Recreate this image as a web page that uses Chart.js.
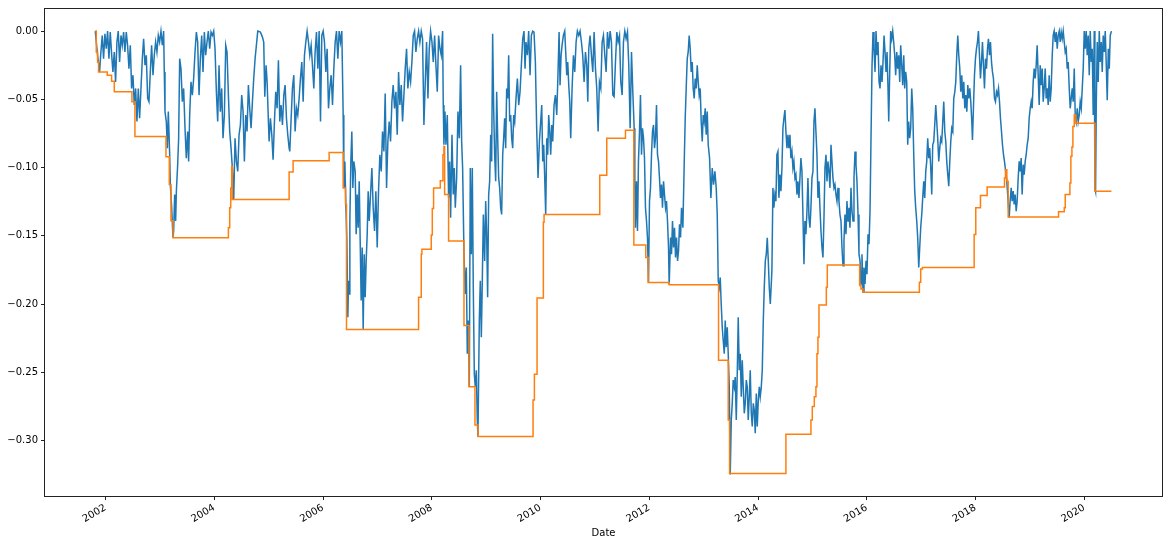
<!DOCTYPE html>
<html>
<head>
<meta charset="utf-8">
<title>Drawdown</title>
<script src="https://cdn.jsdelivr.net/npm/chart.js@4.4.1/dist/chart.umd.min.js"></script>
<style>
  html, body { margin: 0; padding: 0; background: #fff; }
  #wrap { width: 1168px; height: 546px; }
</style>
</head>
<body>
<div id="wrap"><canvas id="dd" width="1168" height="546"></canvas></div>
<script>
// ─── Data (dates as fractional years) ─────────────────────
const yearTicks = [2002, 2004, 2006, 2008, 2010, 2012, 2014, 2016, 2018, 2020];
const valueTicks = [-0.30, -0.25, -0.20, -0.15, -0.10, -0.05, 0.00];

// daily drawdown
const drawdown = [
  [2001.810, 0], [2001.853, -0.0177], [2001.890, -0.0299], [2001.914, -0.0153], [2001.939, -0.0032],
  [2001.963, -0.0202], [2001.988, -0.0019], [2002.013, -0.0129], [2002.037, 0], [2002.062, -0.0202],
  [2002.086, -0.0007], [2002.111, -0.0165], [2002.135, -0.0299], [2002.160, -0.0153], [2002.184, -0.0372],
  [2002.209, -0.0080], [2002.233, 0], [2002.258, -0.0226], [2002.283, -0.0032], [2002.307, -0.0104],
  [2002.332, -0.0007], [2002.356, -0.0153], [2002.381, -0.0007], [2002.405, -0.0104], [2002.430, -0.0275],
  [2002.455, -0.0104], [2002.479, -0.0420], [2002.504, -0.0323], [2002.528, -0.0542], [2002.553, -0.0420],
  [2002.577, -0.0663], [2002.602, -0.0420], [2002.626, -0.0639], [2002.651, -0.0420], [2002.676, -0.0202],
  [2002.700, -0.0056], [2002.725, -0.0250], [2002.749, -0.0177], [2002.774, -0.0493], [2002.798, -0.0517],
  [2002.823, -0.0299], [2002.847, -0.0104], [2002.872, -0.0323], [2002.896, -0.0177], [2002.921, -0.0080],
  [2002.945, -0.0153], [2002.970, -0.0032], [2002.994, -0.0080], [2003.019, 0], [2003.044, -0.0104],
  [2003.068, 0], [2003.080, -0.0299], [2003.093, -0.0590], [2003.117, -0.0663], [2003.136, -0.0858],
  [2003.154, -0.0590], [2003.179, -0.0906], [2003.191, -0.1125], [2003.216, -0.1295], [2003.240, -0.1514],
  [2003.252, -0.1465], [2003.271, -0.1198], [2003.289, -0.1392], [2003.302, -0.1173], [2003.326, -0.0979],
  [2003.344, -0.0785], [2003.363, -0.0202], [2003.387, -0.0275], [2003.412, -0.0517], [2003.436, -0.0420],
  [2003.461, -0.0712], [2003.485, -0.0931], [2003.510, -0.0736], [2003.528, -0.0955], [2003.547, -0.0615],
  [2003.571, -0.0372], [2003.596, -0.0469], [2003.620, -0.0347], [2003.645, -0.0153], [2003.670, -0.0007],
  [2003.694, -0.0080], [2003.719, -0.0469], [2003.743, -0.0202], [2003.768, -0.0032], [2003.792, -0.0299],
  [2003.817, -0.0007], [2003.841, -0.0177], [2003.866, -0.0080], [2003.890, 0], [2003.915, -0.0129],
  [2003.940, -0.0007], [2003.964, -0.0032], [2003.989, 0], [2004.013, -0.0129], [2004.038, -0.0445],
  [2004.062, -0.0663], [2004.087, -0.0250], [2004.111, -0.0590], [2004.136, -0.0420], [2004.160, -0.0785],
  [2004.185, -0.0615], [2004.210, -0.0104], [2004.234, -0.0153], [2004.259, -0.0469], [2004.283, -0.0736],
  [2004.308, -0.0858], [2004.332, -0.1003], [2004.357, -0.1234], [2004.381, -0.0785], [2004.406, -0.0955],
  [2004.431, -0.1028], [2004.455, -0.0760], [2004.480, -0.0687], [2004.504, -0.0469], [2004.529, -0.0590],
  [2004.553, -0.0955], [2004.578, -0.0615], [2004.602, -0.0736], [2004.627, -0.0396], [2004.651, -0.0566],
  [2004.676, -0.0712], [2004.701, -0.0517], [2004.725, -0.0347], [2004.750, -0.0202], [2004.774, -0.0104],
  [2004.799, 0], [2004.848, -0.0007], [2004.885, -0.0044], [2004.909, -0.0080], [2004.928, -0.0481],
  [2004.952, -0.0250], [2004.971, -0.0372], [2004.995, -0.0663], [2005.008, -0.0809], [2005.032, -0.0639],
  [2005.057, -0.0760], [2005.081, -0.0943], [2005.106, -0.0663], [2005.130, -0.0445], [2005.155, -0.0566],
  [2005.179, -0.0214], [2005.204, -0.0663], [2005.228, -0.0542], [2005.253, -0.0688], [2005.278, -0.0469],
  [2005.302, -0.0396], [2005.327, -0.0639], [2005.351, -0.0760], [2005.376, -0.0858], [2005.388, -0.0882],
  [2005.413, -0.0639], [2005.437, -0.0420], [2005.462, -0.0323], [2005.486, -0.0736], [2005.511, -0.0566],
  [2005.535, -0.0615], [2005.560, -0.0493], [2005.584, -0.0347], [2005.609, -0.0226], [2005.634, -0.0517],
  [2005.658, -0.0177], [2005.683, -0.0080], [2005.707, 0], [2005.732, -0.0080], [2005.756, -0.0177],
  [2005.781, -0.0104], [2005.805, -0.0250], [2005.830, -0.0420], [2005.854, -0.0153], [2005.879, -0.0007],
  [2005.904, -0.0275], [2005.928, 0], [2005.953, -0.0663], [2005.977, -0.0032], [2006.002, 0],
  [2006.026, -0.0080], [2006.051, -0.0299], [2006.075, -0.0129], [2006.100, -0.0566], [2006.124, -0.0420],
  [2006.149, -0.0323], [2006.174, -0.0542], [2006.198, -0.0275], [2006.223, -0.0080], [2006.247, 0],
  [2006.272, -0.0202], [2006.296, 0], [2006.321, -0.0080], [2006.345, 0], [2006.370, -0.0615],
  [2006.382, -0.1149], [2006.401, -0.0955], [2006.419, -0.1271], [2006.437, -0.1514], [2006.456, -0.2097],
  [2006.468, -0.1829], [2006.480, -0.1927], [2006.493, -0.1392], [2006.511, -0.0955], [2006.529, -0.0736],
  [2006.548, -0.1149], [2006.566, -0.0955], [2006.591, -0.1028], [2006.609, -0.1489], [2006.628, -0.1198],
  [2006.646, -0.1441], [2006.665, -0.1101], [2006.683, -0.1538], [2006.701, -0.1975], [2006.720, -0.1586],
  [2006.738, -0.2187], [2006.757, -0.1635], [2006.775, -0.1951], [2006.793, -0.1684], [2006.812, -0.1489],
  [2006.830, -0.1173], [2006.849, -0.1392], [2006.873, -0.1198], [2006.898, -0.1003], [2006.922, -0.1295],
  [2006.947, -0.1465], [2006.971, -0.1173], [2006.996, -0.1586], [2007.020, -0.1173], [2007.045, -0.0906],
  [2007.070, -0.1028], [2007.094, -0.0736], [2007.119, -0.0882], [2007.143, -0.0457], [2007.168, -0.1149],
  [2007.192, -0.0809], [2007.217, -0.0663], [2007.241, -0.0809], [2007.266, -0.0517], [2007.290, -0.0396],
  [2007.315, -0.0566], [2007.340, -0.0445], [2007.364, -0.0760], [2007.389, -0.0299], [2007.413, -0.0542],
  [2007.438, -0.0396], [2007.462, -0.0663], [2007.487, -0.0469], [2007.511, -0.0275], [2007.536, -0.0129],
  [2007.560, -0.0420], [2007.585, -0.0299], [2007.610, -0.0372], [2007.634, -0.0226], [2007.659, -0.0032],
  [2007.683, 0], [2007.708, -0.0153], [2007.732, -0.0056], [2007.757, 0], [2007.781, -0.0080],
  [2007.806, 0], [2007.830, -0.0056], [2007.855, -0.0688], [2007.880, -0.0372], [2007.904, -0.0080],
  [2007.929, -0.0493], [2007.953, -0.0129], [2007.978, 0], [2008.003, -0.0080], [2008.027, -0.0226],
  [2008.052, -0.0032], [2008.076, -0.0250], [2008.101, -0.0445], [2008.125, -0.0032], [2008.150, -0.0129],
  [2008.174, -0.0177], [2008.199, 0], [2008.211, -0.0542], [2008.223, -0.0833], [2008.242, -0.0590],
  [2008.260, -0.0833], [2008.285, -0.0615], [2008.309, -0.1222], [2008.328, -0.0955], [2008.346, -0.1368],
  [2008.371, -0.0760], [2008.395, -0.1198], [2008.414, -0.1003], [2008.432, -0.1295], [2008.457, -0.1076],
  [2008.481, -0.0590], [2008.506, -0.0785], [2008.530, -0.0250], [2008.549, -0.0809], [2008.567, -0.1003],
  [2008.592, -0.1635], [2008.616, -0.1927], [2008.635, -0.1732], [2008.653, -0.2364], [2008.671, -0.2121],
  [2008.690, -0.2607], [2008.708, -0.1003], [2008.727, -0.1635], [2008.745, -0.1003], [2008.763, -0.1878],
  [2008.782, -0.2510], [2008.800, -0.2607], [2008.819, -0.2486], [2008.837, -0.2850], [2008.849, -0.2971],
  [2008.874, -0.2121], [2008.892, -0.1829], [2008.911, -0.2243], [2008.929, -0.1829], [2008.948, -0.1344],
  [2008.972, -0.1684], [2008.991, -0.1246], [2009.009, -0.1489], [2009.027, -0.1951], [2009.046, -0.1198],
  [2009.064, -0.1101], [2009.083, -0.0760], [2009.101, -0.0955], [2009.119, -0.0019], [2009.138, -0.0566],
  [2009.156, -0.0906], [2009.175, -0.1101], [2009.193, -0.0445], [2009.212, -0.0785], [2009.230, -0.1076],
  [2009.248, -0.1149], [2009.267, -0.1295], [2009.285, -0.1344], [2009.304, -0.0906], [2009.322, -0.0785],
  [2009.340, -0.0639], [2009.359, -0.0858], [2009.377, -0.0420], [2009.396, -0.0493], [2009.414, -0.0177],
  [2009.432, -0.0663], [2009.451, -0.0615], [2009.469, -0.0785], [2009.488, -0.0858], [2009.506, -0.0615],
  [2009.525, -0.0663], [2009.549, -0.0493], [2009.574, -0.0347], [2009.598, -0.0542], [2009.623, -0.0445],
  [2009.647, -0.0250], [2009.672, -0.0056], [2009.696, 0], [2009.715, -0.0275], [2009.733, -0.0080],
  [2009.758, -0.0177], [2009.782, 0], [2009.807, -0.0323], [2009.831, -0.0032], [2009.856, 0],
  [2009.880, -0.0007], [2009.905, -0.0226], [2009.929, -0.0712], [2009.954, -0.1076], [2009.979, -0.0809],
  [2010.003, -0.0663], [2010.022, -0.0542], [2010.040, -0.0955], [2010.058, -0.0833], [2010.077, -0.1076],
  [2010.095, -0.1344], [2010.114, -0.0785], [2010.132, -0.0906], [2010.150, -0.0615], [2010.169, -0.0736],
  [2010.187, -0.0906], [2010.206, -0.0688], [2010.224, -0.0809], [2010.249, -0.0542], [2010.273, -0.0469],
  [2010.298, -0.0615], [2010.322, -0.0299], [2010.341, -0.0007], [2010.359, -0.0396], [2010.378, -0.0177],
  [2010.396, -0.0104], [2010.420, -0.0032], [2010.445, 0], [2010.463, -0.0153], [2010.482, -0.0323],
  [2010.500, -0.0226], [2010.519, -0.0396], [2010.537, -0.0517], [2010.555, -0.0785], [2010.580, -0.0420],
  [2010.605, -0.0177], [2010.629, -0.0299], [2010.654, -0.0080], [2010.678, 0], [2010.703, -0.0032],
  [2010.727, 0], [2010.752, -0.0080], [2010.776, -0.0177], [2010.801, -0.0372], [2010.826, -0.0153],
  [2010.850, -0.0250], [2010.869, -0.0517], [2010.887, -0.0129], [2010.911, -0.0032], [2010.936, -0.0177],
  [2010.961, -0.0299], [2010.985, -0.0007], [2011.010, -0.0275], [2011.034, -0.0420], [2011.059, -0.0736],
  [2011.083, -0.0372], [2011.108, -0.0420], [2011.133, -0.0080], [2011.157, -0.0032], [2011.182, -0.0177],
  [2011.206, -0.0299], [2011.231, -0.0007], [2011.255, -0.0129], [2011.280, 0], [2011.304, -0.0080],
  [2011.329, -0.0469], [2011.353, -0.0481], [2011.378, -0.0226], [2011.403, -0.0007], [2011.427, -0.0080],
  [2011.452, -0.0032], [2011.476, -0.0372], [2011.501, -0.0469], [2011.525, -0.0080], [2011.550, 0],
  [2011.574, -0.0056], [2011.599, -0.0007], [2011.623, -0.0250], [2011.648, -0.0712], [2011.673, -0.0153],
  [2011.697, -0.0445], [2011.722, -0.0712], [2011.734, -0.1101], [2011.746, -0.1441], [2011.765, -0.1101],
  [2011.783, -0.1465], [2011.801, -0.0955], [2011.820, -0.0736], [2011.838, -0.0469], [2011.857, -0.0906],
  [2011.875, -0.0712], [2011.894, -0.0785], [2011.912, -0.0931], [2011.930, -0.1295], [2011.949, -0.1392],
  [2011.967, -0.1514], [2011.986, -0.1842], [2012.004, -0.1246], [2012.022, -0.1149], [2012.041, -0.0906],
  [2012.059, -0.0736], [2012.078, -0.0688], [2012.096, -0.0858], [2012.114, -0.0785], [2012.133, -0.0542],
  [2012.151, -0.0906], [2012.170, -0.0955], [2012.188, -0.1076], [2012.206, -0.1222], [2012.225, -0.1125],
  [2012.243, -0.1295], [2012.262, -0.1101], [2012.280, -0.1198], [2012.299, -0.1295], [2012.317, -0.1246],
  [2012.335, -0.1392], [2012.354, -0.1586], [2012.366, -0.1859], [2012.391, -0.1513], [2012.409, -0.1635],
  [2012.427, -0.1392], [2012.446, -0.1586], [2012.464, -0.1441], [2012.483, -0.1659], [2012.501, -0.1513],
  [2012.520, -0.1684], [2012.538, -0.1611], [2012.556, -0.1416], [2012.575, -0.1513], [2012.593, -0.1295],
  [2012.618, -0.1441], [2012.642, -0.0979], [2012.661, -0.0639], [2012.679, -0.0420], [2012.698, -0.0202],
  [2012.716, -0.0153], [2012.734, -0.0032], [2012.753, -0.0129], [2012.771, -0.0299], [2012.790, -0.0226],
  [2012.808, -0.0420], [2012.826, -0.0493], [2012.845, -0.0347], [2012.863, -0.0420], [2012.882, -0.0250],
  [2012.900, -0.0372], [2012.918, -0.0469], [2012.937, -0.0420], [2012.955, -0.0663], [2012.974, -0.0809],
  [2012.992, -0.0615], [2013.010, -0.0663], [2013.029, -0.0566], [2013.047, -0.0760], [2013.066, -0.0590],
  [2013.084, -0.0833], [2013.109, -0.0931], [2013.133, -0.1222], [2013.158, -0.1003], [2013.182, -0.1125],
  [2013.207, -0.1028], [2013.231, -0.1149], [2013.250, -0.1344], [2013.268, -0.1829], [2013.287, -0.1878],
  [2013.305, -0.1805], [2013.323, -0.2000], [2013.342, -0.2170], [2013.360, -0.2267], [2013.379, -0.2364],
  [2013.397, -0.2121], [2013.415, -0.2316], [2013.434, -0.2170], [2013.452, -0.2364], [2013.471, -0.2607],
  [2013.489, -0.3250], [2013.508, -0.2850], [2013.526, -0.2728], [2013.544, -0.2558], [2013.563, -0.2607],
  [2013.581, -0.2535], [2013.600, -0.2850], [2013.618, -0.2510], [2013.636, -0.2097], [2013.655, -0.2486],
  [2013.673, -0.2364], [2013.692, -0.2680], [2013.710, -0.2413], [2013.728, -0.2607], [2013.747, -0.2801],
  [2013.765, -0.2728], [2013.784, -0.2558], [2013.802, -0.2607], [2013.820, -0.2850], [2013.839, -0.2680],
  [2013.857, -0.2486], [2013.876, -0.2801], [2013.894, -0.2898], [2013.913, -0.2728], [2013.931, -0.2777],
  [2013.949, -0.2947], [2013.968, -0.2656], [2013.986, -0.2898], [2014.005, -0.2704], [2014.023, -0.2607],
  [2014.041, -0.2680], [2014.060, -0.2607], [2014.078, -0.2486], [2014.097, -0.2121], [2014.115, -0.1878],
  [2014.134, -0.1684], [2014.152, -0.1635], [2014.170, -0.1514], [2014.189, -0.1684], [2014.207, -0.1878],
  [2014.226, -0.2000], [2014.255, -0.1757], [2014.274, -0.1149], [2014.292, -0.1295], [2014.311, -0.1198],
  [2014.329, -0.1246], [2014.347, -0.0906], [2014.366, -0.0882], [2014.384, -0.1222], [2014.403, -0.1052],
  [2014.421, -0.1173], [2014.440, -0.1003], [2014.458, -0.0712], [2014.476, -0.0639], [2014.495, -0.0578],
  [2014.513, -0.0736], [2014.532, -0.0858], [2014.550, -0.0760], [2014.568, -0.0858], [2014.587, -0.0760],
  [2014.605, -0.0931], [2014.624, -0.0882], [2014.642, -0.1003], [2014.660, -0.0955], [2014.679, -0.1076],
  [2014.697, -0.1052], [2014.716, -0.1198], [2014.734, -0.1101], [2014.753, -0.1222], [2014.771, -0.1076],
  [2014.789, -0.0931], [2014.808, -0.1028], [2014.826, -0.1344], [2014.845, -0.1708], [2014.863, -0.1392],
  [2014.881, -0.1489], [2014.900, -0.1319], [2014.918, -0.1076], [2014.937, -0.1368], [2014.955, -0.1441],
  [2014.973, -0.1295], [2014.992, -0.1076], [2015.010, -0.1028], [2015.029, -0.0663], [2015.047, -0.0566],
  [2015.065, -0.0736], [2015.084, -0.0906], [2015.102, -0.1222], [2015.121, -0.1101], [2015.139, -0.1295],
  [2015.158, -0.1465], [2015.176, -0.1586], [2015.194, -0.1659], [2015.213, -0.1368], [2015.231, -0.1003],
  [2015.250, -0.0906], [2015.268, -0.1101], [2015.286, -0.0955], [2015.305, -0.1028], [2015.323, -0.1149],
  [2015.342, -0.0833], [2015.360, -0.0955], [2015.378, -0.1076], [2015.397, -0.1149], [2015.415, -0.1125],
  [2015.434, -0.1198], [2015.452, -0.1246], [2015.471, -0.1149], [2015.489, -0.1246], [2015.507, -0.1344],
  [2015.526, -0.1392], [2015.544, -0.1586], [2015.563, -0.1720], [2015.581, -0.1538], [2015.599, -0.1344],
  [2015.618, -0.1489], [2015.636, -0.1246], [2015.655, -0.1392], [2015.673, -0.1295], [2015.691, -0.1441],
  [2015.710, -0.1149], [2015.728, -0.1319], [2015.747, -0.1392], [2015.765, -0.1076], [2015.784, -0.0882],
  [2015.802, -0.0979], [2015.820, -0.1101], [2015.839, -0.1344], [2015.857, -0.1635], [2015.876, -0.1684],
  [2015.894, -0.1854], [2015.912, -0.1635], [2015.931, -0.1914], [2015.949, -0.1732], [2015.968, -0.1854],
  [2015.986, -0.1684], [2016.004, -0.1781], [2016.023, -0.1489], [2016.041, -0.1562], [2016.060, -0.1319],
  [2016.078, -0.0785], [2016.097, -0.0250], [2016.115, -0.0007], [2016.133, -0.0129], [2016.152, -0.0299],
  [2016.170, 0], [2016.189, -0.0177], [2016.207, -0.0080], [2016.226, -0.0372], [2016.244, -0.0420],
  [2016.262, -0.0250], [2016.281, -0.0372], [2016.299, -0.0226], [2016.318, -0.0032], [2016.336, -0.0153],
  [2016.354, -0.0299], [2016.373, -0.0153], [2016.391, -0.0420], [2016.404, -0.0663], [2016.422, -0.0299],
  [2016.440, 0], [2016.459, -0.0056], [2016.477, 0], [2016.495, -0.0080], [2016.514, -0.0177],
  [2016.532, -0.0323], [2016.551, -0.0153], [2016.569, -0.0275], [2016.588, -0.0177], [2016.606, -0.0372],
  [2016.624, -0.0104], [2016.643, -0.0250], [2016.661, -0.0396], [2016.680, -0.0177], [2016.698, -0.0420],
  [2016.716, -0.0299], [2016.735, -0.0372], [2016.753, -0.0833], [2016.771, -0.0663], [2016.790, -0.0785],
  [2016.808, -0.0712], [2016.827, -0.0420], [2016.845, -0.0566], [2016.864, -0.0906], [2016.882, -0.1173],
  [2016.900, -0.1295], [2016.919, -0.1392], [2016.937, -0.1514], [2016.956, -0.1732], [2016.974, -0.1586],
  [2016.992, -0.1441], [2017.011, -0.1344], [2017.029, -0.1222], [2017.048, -0.1101], [2017.066, -0.1222],
  [2017.085, -0.1028], [2017.103, -0.0955], [2017.121, -0.0785], [2017.140, -0.0931], [2017.158, -0.0858],
  [2017.177, -0.1003], [2017.195, -0.1198], [2017.213, -0.0833], [2017.232, -0.0809], [2017.250, -0.0688],
  [2017.269, -0.0542], [2017.287, -0.0663], [2017.305, -0.0785], [2017.324, -0.0955], [2017.342, -0.0858],
  [2017.361, -0.0785], [2017.379, -0.0809], [2017.392, -0.0712], [2017.416, -0.0517], [2017.435, -0.0736],
  [2017.453, -0.0809], [2017.471, -0.0955], [2017.490, -0.1052], [2017.508, -0.1137], [2017.527, -0.0955],
  [2017.545, -0.0809], [2017.563, -0.0712], [2017.582, -0.0736], [2017.600, -0.0493], [2017.619, -0.0445],
  [2017.637, -0.0372], [2017.655, -0.0177], [2017.674, -0.0032], [2017.692, -0.0177], [2017.711, -0.0275],
  [2017.729, -0.0445], [2017.747, -0.0323], [2017.766, -0.0493], [2017.784, -0.0372], [2017.803, -0.0566],
  [2017.821, -0.0469], [2017.840, -0.0590], [2017.858, -0.0396], [2017.876, -0.0493], [2017.895, -0.0420],
  [2017.913, -0.0517], [2017.932, -0.0663], [2017.944, -0.0797], [2017.962, -0.0566], [2017.981, -0.0323],
  [2017.999, -0.0202], [2018.018, -0.0129], [2018.036, -0.0080], [2018.054, 0], [2018.073, -0.0177],
  [2018.091, -0.0347], [2018.110, -0.0226], [2018.128, -0.0080], [2018.146, -0.0250], [2018.165, -0.0420],
  [2018.183, -0.0202], [2018.202, -0.0275], [2018.220, -0.0129], [2018.238, -0.0056], [2018.257, -0.0177],
  [2018.275, -0.0080], [2018.294, -0.0226], [2018.312, -0.0299], [2018.330, -0.0347], [2018.349, -0.0493],
  [2018.367, -0.0517], [2018.386, -0.0445], [2018.404, -0.0469], [2018.423, -0.0420], [2018.441, -0.0517],
  [2018.459, -0.0639], [2018.478, -0.0736], [2018.496, -0.0833], [2018.515, -0.0906], [2018.533, -0.0955],
  [2018.551, -0.1016], [2018.570, -0.1076], [2018.588, -0.1173], [2018.607, -0.1295], [2018.619, -0.1368],
  [2018.637, -0.1246], [2018.656, -0.1149], [2018.674, -0.1246], [2018.693, -0.1173], [2018.711, -0.1271],
  [2018.729, -0.1198], [2018.748, -0.1319], [2018.766, -0.1246], [2018.785, -0.1076], [2018.803, -0.0955],
  [2018.821, -0.1028], [2018.840, -0.0931], [2018.858, -0.1198], [2018.877, -0.0979], [2018.895, -0.1052],
  [2018.914, -0.0955], [2018.932, -0.0906], [2018.950, -0.0833], [2018.969, -0.0785], [2018.987, -0.0639],
  [2019.006, -0.0566], [2019.024, -0.0517], [2019.042, -0.0566], [2019.061, -0.0372], [2019.079, -0.0275],
  [2019.098, -0.0347], [2019.116, -0.0250], [2019.134, -0.0104], [2019.153, -0.0323], [2019.171, -0.0542],
  [2019.190, -0.0250], [2019.208, -0.0396], [2019.227, -0.0275], [2019.245, -0.0517], [2019.263, -0.0420],
  [2019.282, -0.0275], [2019.300, -0.0493], [2019.319, -0.0420], [2019.337, -0.0542], [2019.355, -0.0323],
  [2019.374, -0.0517], [2019.392, -0.0420], [2019.411, -0.0177], [2019.429, -0.0032], [2019.447, 0],
  [2019.466, -0.0080], [2019.484, -0.0007], [2019.503, -0.0129], [2019.521, -0.0032], [2019.540, 0],
  [2019.558, -0.0080], [2019.576, -0.0007], [2019.595, -0.0056], [2019.613, 0], [2019.632, -0.0080],
  [2019.650, -0.0153], [2019.668, -0.0129], [2019.687, -0.0275], [2019.705, -0.0226], [2019.724, -0.0420],
  [2019.742, -0.0566], [2019.760, -0.0493], [2019.779, -0.0420], [2019.797, -0.0517], [2019.816, -0.0275],
  [2019.834, -0.0615], [2019.853, -0.0663], [2019.871, -0.0566], [2019.889, -0.0663], [2019.908, -0.0615],
  [2019.926, -0.0517], [2019.945, -0.0566], [2019.963, -0.0420], [2019.981, -0.0275], [2020.000, 0],
  [2020.018, -0.0129], [2020.036, 0], [2020.055, -0.0177], [2020.073, -0.0032], [2020.092, -0.0323],
  [2020.110, 0], [2020.129, -0.0226], [2020.147, -0.0129], [2020.165, -0.0615], [2020.184, 0],
  [2020.196, -0.1149], [2020.208, -0.1173], [2020.221, -0.0542], [2020.239, -0.0080], [2020.257, -0.0372],
  [2020.276, 0], [2020.294, -0.0226], [2020.313, -0.0080], [2020.331, -0.0299], [2020.349, -0.0032],
  [2020.368, -0.0153], [2020.386, 0], [2020.405, -0.0250], [2020.423, -0.0506], [2020.442, -0.0129],
  [2020.460, -0.0275], [2020.478, -0.0032], [2020.500, 0]
];

// rolling max drawdown: [start date, level held until the next entry]
const maxDrawdownSteps = [
  [2001.810, 0], [2001.829, -0.0153], [2001.853, -0.0226], [2001.871, -0.0299], [2002.031, -0.0323],
  [2002.111, -0.0367], [2002.160, -0.0445], [2002.485, -0.0518], [2002.540, -0.0773], [2003.111, -0.0920],
  [2003.172, -0.1125], [2003.203, -0.1390], [2003.240, -0.1514], [2004.259, -0.1441], [2004.283, -0.1295],
  [2004.302, -0.1149], [2004.320, -0.0991], [2004.332, -0.1234], [2005.376, -0.1033], [2005.449, -0.0950],
  [2006.112, -0.0889], [2006.370, -0.1149], [2006.413, -0.1271], [2006.431, -0.2187], [2007.757, -0.1951],
  [2007.806, -0.1635], [2007.818, -0.1599], [2007.990, -0.1494], [2008.009, -0.1300], [2008.033, -0.1150],
  [2008.156, -0.1096], [2008.205, -0.0906], [2008.223, -0.0845], [2008.236, -0.1198], [2008.309, -0.1538],
  [2008.592, -0.2157], [2008.684, -0.2607], [2008.794, -0.2886], [2008.849, -0.2971], [2009.862, -0.2704],
  [2009.887, -0.2515], [2009.936, -0.1956], [2010.052, -0.1400], [2010.065, -0.1344], [2011.089, -0.1057],
  [2011.218, -0.0785], [2011.562, -0.0726], [2011.716, -0.1567], [2011.936, -0.1660], [2011.979, -0.1842],
  [2012.366, -0.1859], [2013.274, -0.2413], [2013.452, -0.2850], [2013.477, -0.3243], [2014.513, -0.2954],
  [2014.973, -0.2850], [2014.998, -0.2752], [2015.035, -0.2680], [2015.065, -0.2607], [2015.084, -0.2364],
  [2015.102, -0.2243], [2015.121, -0.2007], [2015.256, -0.1878], [2015.274, -0.1715], [2015.869, -0.1864],
  [2015.894, -0.1890], [2015.931, -0.1914], [2016.968, -0.1841], [2016.992, -0.1744], [2017.023, -0.1732],
  [2017.975, -0.1490], [2018.005, -0.1295], [2018.091, -0.1205], [2018.214, -0.1142], [2018.533, -0.1076],
  [2018.551, -0.1016], [2018.576, -0.1100], [2018.601, -0.1363], [2019.527, -0.1324], [2019.632, -0.1295],
  [2019.650, -0.1198], [2019.736, -0.1113], [2019.754, -0.0918], [2019.773, -0.0850], [2019.791, -0.0700],
  [2019.816, -0.0615], [2019.846, -0.0675], [2020.196, -0.1173], [2020.500, -0.1173]
];

// ─── Defaults ─────────────────────────────────────────────
Chart.defaults.font.family = "'DejaVu Sans', sans-serif";
Chart.defaults.font.size = 10;
Chart.defaults.color = '#000';

const AXIS_COLOR = '#222';

// matplotlib-style full box round the plot area
const frameBox = {
  id: 'frameBox',
  afterDraw(chart) {
    const { ctx, chartArea: a } = chart;
    ctx.save();
    ctx.strokeStyle = AXIS_COLOR;
    ctx.lineWidth = 1;
    ctx.strokeRect(Math.round(a.left) - 0.5, Math.round(a.top) - 0.5,
      Math.round(a.right - a.left) + 1, Math.round(a.bottom - a.top) + 1);
    ctx.restore();
  }
};

const toXY = pts => pts.map(([x, y]) => ({ x, y }));

new Chart(document.getElementById('dd'), {
  type: 'line',
  data: {
    datasets: [
      {
        label: 'max drawdown',
        data: toXY(maxDrawdownSteps),
        borderColor: '#ff7f0e',
        borderWidth: 1.5,
        pointRadius: 0,
        stepped: true,
        order: 0
      },
      {
        label: 'drawdown',
        data: toXY(drawdown),
        borderColor: '#1f77b4',
        borderWidth: 1.5,
        pointRadius: 0,
        tension: 0,
        order: 1
      }
    ]
  },
  options: {
    responsive: false,
    animation: false,
    layout: { padding: { top: 7, right: 6, left: 0, bottom: 0 } },
    plugins: { legend: { display: false }, tooltip: { enabled: false } },
    scales: {
      x: {
        type: 'linear',
        min: 2000.886,
        max: 2021.43,
        afterBuildTicks: s => { s.ticks = yearTicks.map(v => ({ value: v })); },
        afterFit: s => { s.height = 50; },
        border: { display: false },
        grid: { drawOnChartArea: false, drawTicks: true, tickLength: 4, tickColor: AXIS_COLOR },
        ticks: { minRotation: 30, maxRotation: 30, padding: 2, color: '#000', autoSkip: false,
                 callback: v => String(v) },
        title: { display: true, text: 'Date', color: '#000', padding: { top: 4, bottom: 7 } }
      },
      y: {
        min: -0.3407,
        max: 0.0162,
        afterBuildTicks: s => { s.ticks = valueTicks.map(v => ({ value: v })); },
        afterFit: s => { s.width = 45; },
        border: { display: false },
        grid: { drawOnChartArea: false, drawTicks: true, tickLength: 4, tickColor: AXIS_COLOR },
        ticks: { padding: 3, color: '#000',
                 callback: v => (v < 0 ? '\u2212' : '') + Math.abs(v).toFixed(2) }
      }
    }
  },
  plugins: [frameBox]
});
</script>
</body>
</html>
